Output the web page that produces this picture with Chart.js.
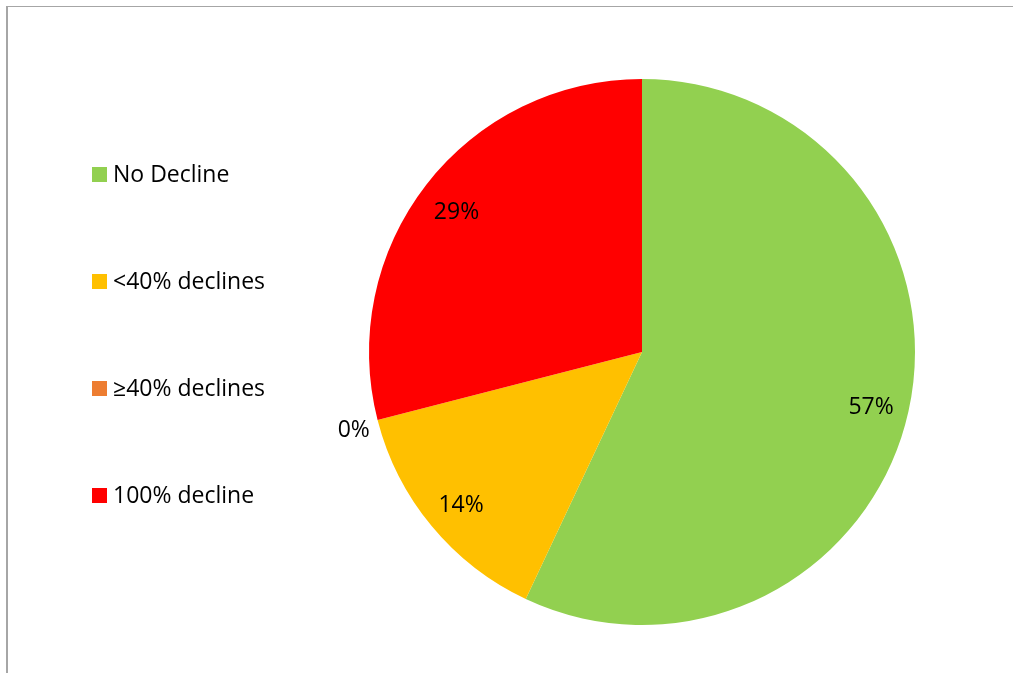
<!DOCTYPE html>
<html>
<head>
<meta charset="utf-8">
<script src="https://cdn.jsdelivr.net/npm/chart.js@4/dist/chart.umd.min.js"></script>
<style>
  html, body { margin: 0; padding: 0; background: #fff; }
  #wrap { position: relative; width: 1013px; height: 673px; overflow: hidden; }
  #frame {
    position: absolute; left: 6px; top: 6px; right: 0; bottom: -4px;
    border-top: 1px solid #a6a6a6; border-left: 2px solid #a6a6a6;
  }
  #pie { position: absolute; left: 0; top: 0; }
</style>
</head>
<body>
<div id="wrap">
  <div id="frame"></div>
  <canvas id="pie" width="1013" height="673"></canvas>
</div>
<script>
// --- Data ---
const categories = ["No Decline", "<40% declines", "\u226540% declines", "100% decline"];
const shares = [57, 14, 0, 29];
const colors = ["#92D050", "#FFC000", "#ED7D31", "#FF0000"];

const FONT = "23px 'Open Sans', sans-serif";

// legend on the left, one row per category
const sideLegend = {
  id: "sideLegend",
  afterDraw(chart) {
    const ctx = chart.ctx;
    ctx.save();
    ctx.font = FONT;
    ctx.textBaseline = "middle";
    chart.data.labels.forEach((lab, i) => {
      const y = 174 + i * 107;
      ctx.fillStyle = chart.data.datasets[0].backgroundColor[i];
      ctx.fillRect(92, y - 7, 15, 15);
      ctx.fillStyle = "#000";
      ctx.fillText(lab, 113, y + 1);
    });
    ctx.restore();
  }
};

// percentage labels on each slice (zero slices get theirs outside)
const sliceLabels = {
  id: "sliceLabels",
  afterDatasetsDraw(chart) {
    const ctx = chart.ctx;
    const meta = chart.getDatasetMeta(0);
    const data = chart.data.datasets[0].data;
    ctx.save();
    ctx.font = FONT;
    ctx.textAlign = "center";
    ctx.textBaseline = "middle";
    ctx.fillStyle = "#000";
    meta.data.forEach((arc, i) => {
      const p = arc.getProps(["x", "y", "startAngle", "endAngle", "outerRadius"], true);
      const mid = (p.startAngle + p.endAngle) / 2;
      const d = data[i] > 0 ? p.outerRadius * 0.86 : p.outerRadius * 1.09;
      ctx.fillText(data[i] + "%", p.x + Math.cos(mid) * d, p.y + Math.sin(mid) * d + 4);
    });
    ctx.restore();
  }
};

new Chart(document.getElementById("pie"), {
  type: "pie",
  data: {
    labels: categories,
    datasets: [{
      data: shares,
      backgroundColor: colors,
      borderWidth: 0
    }]
  },
  options: {
    responsive: false,
    animation: false,
    layout: { padding: { left: 369, right: 98, top: 79, bottom: 48 } },
    plugins: {
      legend: { display: false },
      tooltip: { enabled: false }
    }
  },
  plugins: [sliceLabels, sideLegend]
});
</script>
</body>
</html>
